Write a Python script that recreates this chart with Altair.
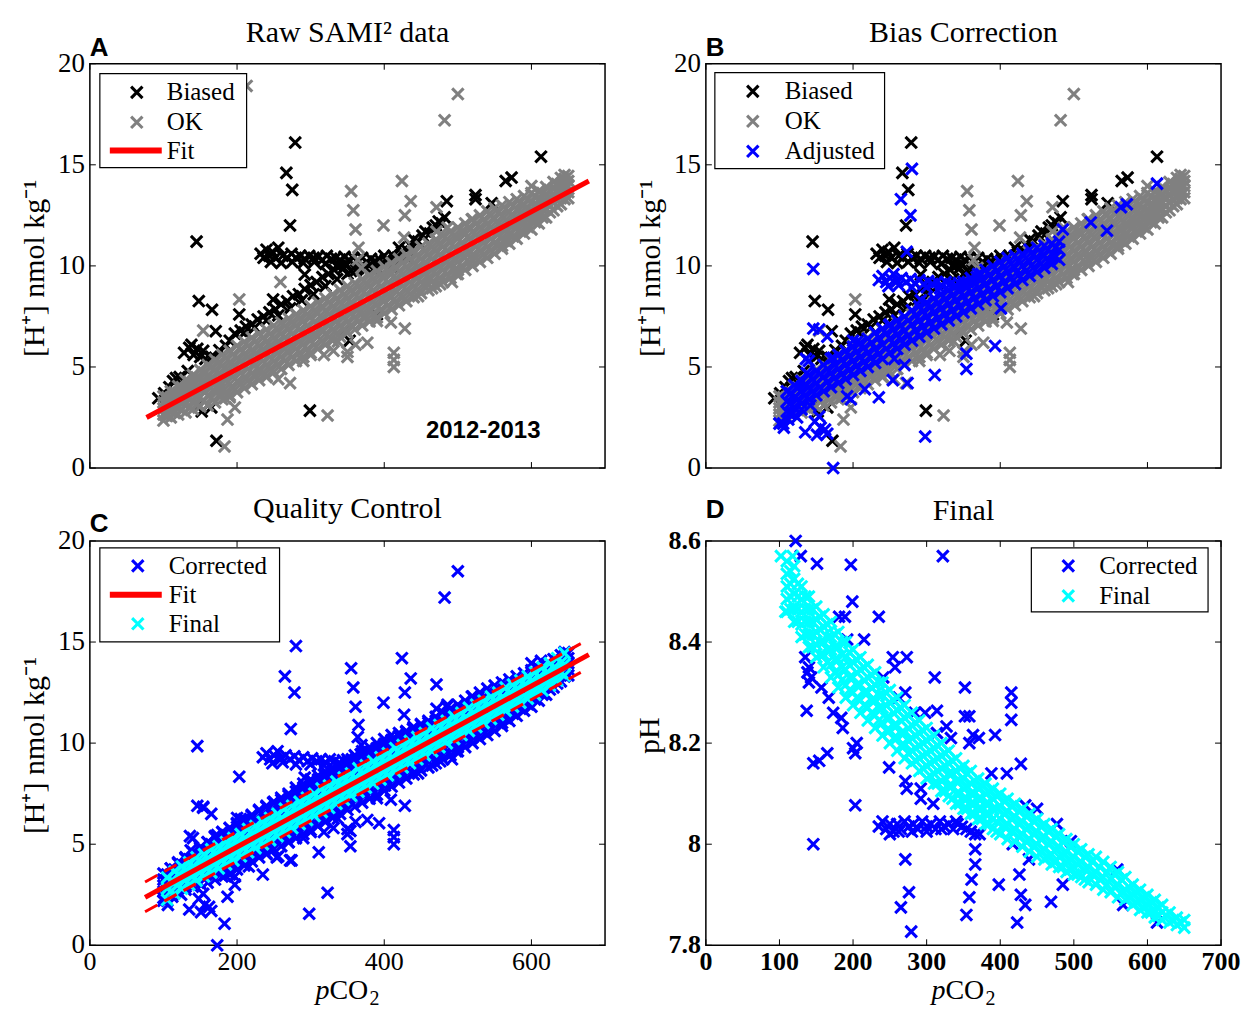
import altair as alt
import pandas as pd

SERIF = "Liberation Serif"
SANS = "Liberation Sans"
XPATH = "M-1,-1L1,1M-1,1L1,-1"
W, H = 516, 405
MS, SW = 130, 3.1
BLACK, GREY, BLUE, CYAN, RED = "#000000", "#808080", "#0000ff", "#00ffff", "#ff0000"

# ---------------- ticks and tick labels ----------------
x_ticks = [0, 200, 400, 600]
x_tick_labels = ["0", "200", "400", "600"]
x_ticks_d = [0, 100, 200, 300, 400, 500, 600, 700]
x_tick_labels_d = ["0", "100", "200", "300", "400", "500", "600", "700"]
h_ticks = [0, 5, 10, 15, 20]
h_tick_labels = ["0", "5", "10", "15", "20"]
ph_ticks = [7.8, 8.0, 8.2, 8.4, 8.6]
ph_tick_labels = ["7.8", "8", "8.2", "8.4", "8.6"]

# ---------------- fits (pCO2, [H+]) ----------------
fit_a_x = [77, 678]
fit_a_y = [2.5, 14.2]
fit_c_x = [75, 678]
fit_c_y = [2.37, 14.38]
fit_c_up_x = [75, 667]
fit_c_up_y = [3.13, 14.92]
fit_c_lo_x = [75, 667]
fit_c_lo_y = [1.66, 13.5]

# ---------------- Biased (black) ----------------
biased_pts = [
    (145, 11.2), (148, 8.26), (166, 7.83), (171, 6.77), (203, 7.6), (249, 8.34), (267, 14.6),
    (275, 13.76), (272, 12.0), (279, 16.1), (292, 9.57), (299, 2.84), (485, 13.2), (524, 13.5),
    (524, 13.3), (546, 13.1), (565, 14.2), (573, 14.37), (613, 15.4), (172, 1.35), (165, 3.0),
    (152, 2.8), (148, 3.1), (353, 6.3), (347, 6.8), (390, 7.6),
    (93, 3.45), (101, 3.7), (108, 4.0), (113, 4.3), (117, 4.45), (122, 4.5), (128, 5.7), (133, 4.8),
    (135, 5.95), (138, 6.1), (141, 5.6), (146, 5.9), (150, 5.5), (154, 5.8), (157, 5.4), (160, 5.2),
    (165, 5.5), (170, 5.45), (176, 5.83), (185, 6.05), (190, 6.3),
    (197, 6.65), (205, 6.8), (212, 7.0), (220, 7.1), (228, 7.35), (236, 7.5), (244, 7.7), (252, 7.85),
    (260, 8.1), (268, 8.25), (276, 8.5), (284, 8.6), (292, 8.85), (300, 9.05), (308, 9.2), (316, 9.45),
    (324, 9.6), (332, 9.8), (340, 10.0), (348, 10.1),
    (210, 6.7), (224, 6.95), (240, 7.3), (256, 7.55), (272, 7.9), (288, 8.3), (304, 8.6), (320, 9.0),
    (336, 9.35), (350, 9.6), (362, 9.8),
    (232, 10.6), (236, 10.4), (240, 10.8), (244, 10.5), (248, 10.7), (252, 10.4), (256, 10.9),
    (262, 10.5), (268, 10.4), (274, 10.6), (280, 10.4), (286, 10.5), (292, 10.35), (298, 10.5),
    (304, 10.4), (310, 10.45), (316, 10.3), (322, 10.5), (328, 10.35), (334, 10.4), (340, 10.3),
    (346, 10.45), (352, 10.3), (358, 10.4), (364, 10.25), (370, 10.4), (376, 10.2), (382, 10.35),
    (388, 10.2), (394, 10.3),
    (246, 10.2), (260, 10.15), (275, 10.2), (290, 10.15), (305, 10.2), (320, 10.1), (335, 10.0),
    (355, 9.75), (365, 9.9), (375, 9.9), (385, 9.8), (380, 10.05), (345, 9.9),
    (390, 9.9), (396, 10.1), (400, 10.5), (402, 10.3), (408, 10.2), (412, 10.5), (418, 10.4),
    (420, 10.9), (424, 10.7), (430, 10.8), (430, 10.4), (436, 11.0), (440, 11.3), (446, 11.2),
    (452, 11.5), (456, 11.7), (462, 11.6), (466, 11.9), (470, 12.0), (474, 12.2), (478, 12.1),
    (482, 12.4), (410, 9.95),
]

# ---------------- OK (grey): dense band read column by column ----------------
ok_cols = [
    (100, 2.35, 2.65, 2.95, 3.25, 3.55), (110, 2.5, 2.8, 3.15, 3.5, 3.8),
    (120, 2.65, 3.0, 3.35, 3.7, 4.05), (130, 2.75, 3.15, 3.55, 3.95, 4.35),
    (140, 2.9, 3.3, 3.75, 4.15, 4.6), (150, 3.05, 3.5, 3.95, 4.4, 4.85),
    (160, 3.1, 3.6, 4.1, 4.6, 5.1), (170, 3.25, 3.8, 4.3, 4.85, 5.35),
    (180, 3.4, 3.95, 4.5, 5.05, 5.6), (190, 3.6, 4.15, 4.7, 5.25, 5.8),
    (200, 3.75, 4.3, 4.9, 5.45, 6.05), (210, 3.95, 4.5, 5.1, 5.65, 6.25),
    (220, 4.15, 4.7, 5.3, 5.85, 6.45), (230, 4.35, 4.9, 5.5, 6.05, 6.65),
    (240, 4.55, 5.1, 5.7, 6.25, 6.85), (250, 4.75, 5.3, 5.9, 6.45, 7.05),
    (260, 4.9, 5.5, 6.05, 6.65, 7.2), (270, 5.1, 5.7, 6.25, 6.85, 7.4),
    (280, 5.3, 5.9, 6.45, 7.05, 7.6), (290, 5.5, 6.1, 6.65, 7.25, 7.8),
    (300, 5.7, 6.3, 6.85, 7.45, 8.0), (310, 5.9, 6.5, 7.05, 7.65, 8.2),
    (320, 6.1, 6.65, 7.25, 7.8, 8.4), (330, 6.3, 6.85, 7.45, 8.0, 8.6),
    (340, 6.5, 7.05, 7.65, 8.2, 8.8), (350, 6.7, 7.25, 7.85, 8.4, 9.0),
    (360, 6.85, 7.45, 8.0, 8.6, 9.15), (370, 7.05, 7.65, 8.2, 8.8, 9.35),
    (380, 7.25, 7.85, 8.4, 9.0, 9.55), (390, 7.45, 8.05, 8.6, 9.2, 9.75),
    (400, 7.65, 8.25, 8.8, 9.4, 9.95), (410, 7.85, 8.45, 9.0, 9.6, 10.15),
    (420, 8.05, 8.6, 9.2, 9.75, 10.35), (430, 8.25, 8.8, 9.4, 9.95, 10.55),
    (440, 8.45, 9.0, 9.6, 10.15, 10.75), (450, 8.65, 9.2, 9.8, 10.35, 10.95),
    (460, 8.8, 9.4, 9.95, 10.55, 11.1), (470, 9.0, 9.6, 10.15, 10.75, 11.3),
    (480, 9.2, 9.8, 10.35, 10.95, 11.5), (490, 9.4, 10.0, 10.55, 11.15, 11.7),
    (500, 9.6, 10.2, 10.75, 11.35, 11.9), (510, 9.8, 10.4, 10.95, 11.55, 12.1),
    (520, 10.0, 10.55, 11.15, 11.7, 12.3), (530, 10.2, 10.75, 11.35, 11.9, 12.5),
    (540, 10.4, 10.95, 11.55, 12.1, 12.7), (550, 10.6, 11.15, 11.75, 12.3, 12.85),
    (560, 10.85, 11.4, 11.9, 12.45, 13.0), (570, 11.1, 11.6, 12.1, 12.65, 13.15),
    (580, 11.35, 11.85, 12.3, 12.8, 13.3), (590, 11.6, 12.05, 12.5, 13.0, 13.45),
    (600, 11.8, 12.25, 12.7, 13.15, 13.6), (610, 12.1, 12.5, 12.9, 13.3, 13.7),
    (620, 12.4, 12.8, 13.15, 13.55, 13.9), (630, 12.75, 13.1, 13.45, 13.8, 14.15),
    (640, 13.05, 13.35, 13.7, 14.0, 14.35), (650, 13.35, 13.65, 13.95, 14.2, 14.45),
    (105, 2.58, 2.9, 3.2, 3.5), (115, 2.73, 3.07, 3.41, 3.75), (125, 2.88, 3.25, 3.63, 4.0),
    (135, 3.0, 3.43, 3.84, 4.25), (145, 3.17, 3.61, 4.05, 4.49), (155, 3.31, 3.78, 4.26, 4.73),
    (165, 3.46, 3.97, 4.48, 4.99), (175, 3.61, 4.14, 4.68, 5.21), (185, 3.78, 4.33, 4.88, 5.43),
    (195, 3.96, 4.52, 5.08, 5.64), (205, 4.14, 4.71, 5.29, 5.86), (215, 4.33, 4.9, 5.48, 6.05),
    (225, 4.53, 5.1, 5.68, 6.25), (235, 4.72, 5.29, 5.87, 6.44), (245, 4.92, 5.49, 6.07, 6.64),
    (255, 5.11, 5.68, 6.26, 6.83), (265, 5.31, 5.88, 6.46, 7.03), (275, 5.5, 6.07, 6.65, 7.22),
    (285, 5.7, 6.27, 6.85, 7.42), (295, 5.89, 6.46, 7.04, 7.61), (305, 6.09, 6.66, 7.24, 7.81),
    (315, 6.28, 6.85, 7.43, 8.0), (325, 6.48, 7.05, 7.63, 8.2), (335, 6.67, 7.24, 7.82, 8.39),
    (345, 6.87, 7.44, 8.02, 8.59), (355, 7.06, 7.63, 8.21, 8.78), (365, 7.26, 7.83, 8.41, 8.98),
    (375, 7.45, 8.02, 8.6, 9.17), (385, 7.65, 8.22, 8.8, 9.37), (395, 7.84, 8.41, 8.99, 9.56),
    (405, 8.04, 8.61, 9.19, 9.76), (415, 8.23, 8.8, 9.38, 9.95), (425, 8.43, 9.0, 9.58, 10.15),
    (435, 8.62, 9.19, 9.77, 10.34), (445, 8.82, 9.39, 9.97, 10.54), (455, 9.01, 9.58, 10.16, 10.73),
    (465, 9.21, 9.78, 10.36, 10.93), (475, 9.4, 9.97, 10.55, 11.12), (485, 9.6, 10.17, 10.75, 11.32),
    (495, 9.79, 10.36, 10.94, 11.51), (505, 9.99, 10.56, 11.14, 11.71), (515, 10.18, 10.75, 11.33, 11.9),
    (525, 10.38, 10.95, 11.53, 12.1), (535, 10.57, 11.14, 11.72, 12.29), (545, 10.77, 11.34, 11.92, 12.49),
    (555, 11.0, 11.55, 12.1, 12.65), (565, 11.23, 11.76, 12.28, 12.81), (575, 11.46, 11.96, 12.46, 12.96),
    (585, 11.7, 12.17, 12.65, 13.12), (595, 11.93, 12.38, 12.83, 13.28), (605, 12.16, 12.59, 13.01, 13.44),
    (615, 12.4, 12.8, 13.2, 13.6), (625, 12.65, 13.0, 13.4, 13.75), (635, 12.95, 13.3, 13.7, 14.05),
    (645, 13.3, 13.6, 13.95, 14.3),
]
ok_pts = [
    (213, 18.9), (500, 18.5), (482, 17.2), (355, 13.7), (358, 12.75), (361, 11.8), (424, 14.2),
    (436, 13.2), (428, 12.5), (399, 12.0), (471, 12.9), (259, 9.2), (203, 8.34), (154, 6.8),
    (413, 5.7), (413, 5.35), (413, 5.0), (428, 6.9), (409, 7.2), (377, 6.2), (350, 5.5), (323, 2.6),
    (183, 1.07), (187, 2.4), (197, 3.0), (184, 3.45), (256, 4.4), (103, 2.6), (369, 9.9), (471, 11.7),
    (508, 11.7), (364, 10.3), (365, 10.9), (272, 4.2), (290, 5.3), (240, 4.5), (190, 3.5), (175, 3.9),
    (230, 4.8), (300, 5.6), (318, 5.6), (331, 5.8), (337, 6.26), (350, 5.75), (361, 6.1), (390, 7.28),
    (446, 8.5), (465, 8.9), (500, 9.8), (520, 10.3), (560, 11.0), (562, 11.25), (427, 11.4),
    (439, 10.7), (486, 11.9), (476, 9.1), (498, 9.6), (519, 12.3), (492, 9.2), (462, 9.4),
    (372, 7.45), (600, 13.95), (645, 14.5),
]

# ---------------- Adjusted (blue) ----------------
adj_cols = [
    (110, 2.8, 3.3, 3.8), (120, 3.0, 3.5, 4.1), (130, 3.2, 3.8, 4.3), (140, 3.4, 4.0, 4.6),
    (150, 3.6, 4.2, 4.8), (160, 3.8, 4.5, 5.1), (170, 4.0, 4.7, 5.4), (180, 4.2, 4.9, 5.6),
    (190, 4.4, 5.1, 5.8), (200, 4.6, 5.3, 6.0), (210, 4.8, 5.5, 6.2), (220, 5.0, 5.7, 6.4),
    (230, 5.2, 5.9, 6.7), (240, 5.4, 6.1, 6.9), (250, 5.7, 6.4, 7.1), (260, 5.9, 6.6, 7.3),
    (270, 6.1, 6.8, 7.5), (280, 6.3, 7.1, 7.8), (290, 6.5, 7.3, 8.0), (300, 6.7, 7.5, 8.2),
    (310, 6.9, 7.7, 8.4), (320, 7.1, 7.9, 8.6), (330, 7.3, 8.1, 8.8), (340, 7.5, 8.3, 9.0),
    (350, 7.7, 8.5, 9.2), (360, 7.9, 8.7, 9.4), (370, 8.1, 8.9, 9.6), (380, 8.3, 9.1, 9.8),
    (390, 8.5, 9.3, 10.0), (400, 8.7, 9.5, 10.2), (410, 8.9, 9.7, 10.4), (420, 9.1, 9.9, 10.5),
    (430, 9.3, 10.0, 10.6), (440, 9.5, 10.2, 10.8), (450, 9.7, 10.3, 10.9), (460, 9.9, 10.5, 11.0),
    (470, 10.1, 10.6, 11.1), (480, 10.3, 10.8, 11.2),
    (115, 3.2, 3.7), (125, 3.4, 3.95), (135, 3.6, 4.15), (145, 3.8, 4.4), (155, 4.0, 4.65),
    (165, 4.25, 4.9), (175, 4.45, 5.1), (185, 4.65, 5.35), (195, 4.85, 5.55), (205, 5.05, 5.75),
    (215, 5.25, 5.95), (225, 5.45, 6.2), (235, 5.65, 6.45), (245, 5.9, 6.65), (255, 6.15, 6.85),
    (265, 6.35, 7.05), (275, 6.55, 7.3), (285, 6.8, 7.55), (295, 7.0, 7.75), (305, 7.2, 7.95),
    (315, 7.4, 8.15), (325, 7.6, 8.35), (335, 7.8, 8.55), (345, 8.0, 8.75), (355, 8.2, 8.95),
    (365, 8.4, 9.15), (375, 8.6, 9.35), (385, 8.8, 9.55), (395, 9.0, 9.75), (405, 9.2, 9.95),
    (415, 9.4, 10.1), (425, 9.55, 10.25), (435, 9.75, 10.4), (445, 9.9, 10.55), (455, 10.1, 10.65),
    (465, 10.25, 10.8), (475, 10.45, 10.9),
]
adj_pts = [
    (146, 9.85), (146, 6.9), (165, 6.5), (173, 5.45), (173, 0.0), (165, 1.7), (151, 1.64), (135, 1.77),
    (154, 2.55), (105, 2.2), (113, 2.7), (137, 4.7), (205, 6.24), (216, 3.9), (235, 3.5), (254, 4.35),
    (274, 4.2), (311, 4.6), (298, 1.56), (265, 13.3), (280, 14.8), (278, 12.5), (273, 10.7),
    (354, 5.66), (354, 4.9), (393, 6.04), (401, 7.9), (485, 11.8), (523, 12.15), (545, 11.74),
    (564, 12.9), (572, 13.05), (613, 14.07), (292, 8.3), (249, 7.06), (200, 6.3), (100, 2.2),
    (106, 2.0), (112, 2.4), (118, 2.7), (124, 2.5), (130, 2.9), (142, 3.1), (148, 2.3), (156, 2.0),
    (162, 1.9), (140, 5.3), (136, 5.4), (154, 6.85), (256, 5.4), (270, 5.1), (197, 3.4), (192, 3.55),
    (235, 9.3), (240, 9.5), (245, 9.2), (250, 9.4), (255, 9.6), (260, 9.25), (266, 9.4), (272, 9.2),
    (278, 9.35), (284, 9.15), (290, 9.3), (296, 9.1), (302, 9.25), (308, 9.1), (314, 9.2), (320, 9.05),
    (326, 9.2), (332, 9.1), (338, 9.0), (344, 9.15), (350, 9.05), (356, 9.2), (362, 9.3), (368, 9.45),
    (374, 9.6), (248, 9.0), (262, 9.05), (280, 8.95), (300, 8.95), (318, 8.9),
]

# ---------------- Final (cyan) in panel C ----------------
final_c_cols = [
    (105, 2.25, 2.8, 3.35), (115, 2.55, 3.1, 3.65), (125, 2.8, 3.35, 3.9), (135, 3.0, 3.55, 4.1),
    (145, 3.2, 3.75, 4.35), (155, 3.4, 3.95, 4.5), (165, 3.6, 4.15, 4.75), (175, 3.8, 4.35, 4.9),
    (185, 4.0, 4.55, 5.1), (195, 4.2, 4.8, 5.3), (205, 4.4, 4.95, 5.5), (215, 4.6, 5.15, 5.75),
    (225, 4.8, 5.35, 5.9), (235, 5.0, 5.55, 6.1), (245, 5.2, 5.8, 6.3), (255, 5.4, 5.95, 6.5),
    (265, 5.6, 6.15, 6.75), (275, 5.8, 6.35, 6.9), (285, 6.0, 6.55, 7.1), (295, 6.2, 6.8, 7.3),
    (305, 6.4, 6.95, 7.5), (315, 6.6, 7.15, 7.75), (325, 6.8, 7.35, 7.9), (335, 7.0, 7.55, 8.1),
    (345, 7.2, 7.8, 8.3), (355, 7.4, 7.95, 8.5), (365, 7.6, 8.15, 8.75), (375, 7.8, 8.35, 8.9),
    (385, 8.0, 8.55, 9.1), (395, 8.2, 8.8, 9.3), (405, 8.4, 8.95, 9.5), (415, 8.6, 9.15, 9.75),
    (425, 8.8, 9.35, 9.9), (435, 9.0, 9.55, 10.1), (445, 9.2, 9.8, 10.3), (455, 9.4, 9.95, 10.5),
    (465, 9.6, 10.15, 10.75), (475, 9.8, 10.35, 10.9), (485, 10.0, 10.55, 11.1),
    (495, 10.2, 10.8, 11.3), (505, 10.4, 10.95, 11.5), (515, 10.6, 11.15, 11.75),
    (525, 10.8, 11.35, 11.9), (535, 11.0, 11.55, 12.1), (545, 11.2, 11.8, 12.3),
    (555, 11.4, 11.95, 12.5), (565, 11.6, 12.15, 12.75), (575, 11.8, 12.35, 12.9),
    (585, 12.0, 12.55, 13.1), (595, 12.2, 12.8, 13.3), (605, 12.4, 12.95, 13.5),
    (615, 12.6, 13.15, 13.75), (625, 12.85, 13.4, 13.95), (635, 13.1, 13.65, 14.2),
    (645, 13.35, 13.9, 14.45),
    (110, 2.67, 3.17), (120, 3.0, 3.5), (130, 3.22, 3.72), (140, 3.42, 3.92), (150, 3.62, 4.12),
    (160, 3.81, 4.31), (170, 4.01, 4.51), (180, 4.21, 4.71), (190, 4.41, 4.91), (200, 4.61, 5.11),
    (210, 4.81, 5.31), (220, 5.01, 5.51), (230, 5.21, 5.71), (240, 5.41, 5.91), (250, 5.61, 6.11),
    (260, 5.8, 6.3), (270, 6.0, 6.5), (280, 6.2, 6.7), (290, 6.4, 6.9), (300, 6.6, 7.1),
    (310, 6.8, 7.3), (320, 7.0, 7.5), (330, 7.2, 7.7), (340, 7.4, 7.9), (350, 7.6, 8.1),
    (360, 7.79, 8.29), (370, 7.99, 8.49), (380, 8.19, 8.69), (390, 8.39, 8.89), (400, 8.59, 9.09),
    (410, 8.79, 9.29), (420, 8.99, 9.49), (430, 9.19, 9.69), (440, 9.39, 9.89), (450, 9.59, 10.09),
    (460, 9.78, 10.28), (470, 9.98, 10.48), (480, 10.18, 10.68), (490, 10.38, 10.88),
    (500, 10.58, 11.08), (510, 10.78, 11.28), (520, 10.98, 11.48), (530, 11.18, 11.68),
    (540, 11.38, 11.88), (550, 11.58, 12.08), (560, 11.77, 12.27), (570, 11.97, 12.47),
    (580, 12.17, 12.67), (590, 12.37, 12.87), (600, 12.57, 13.07), (610, 12.77, 13.27),
    (620, 12.97, 13.47), (630, 13.22, 13.72), (640, 13.47, 13.97),
]

# ---------------- Panel D: pH ----------------
d_corr_pts = [
    (122, 8.60), (129, 8.57), (151, 8.555), (197, 8.553), (322, 8.57), (199, 8.48), (189, 8.45),
    (181, 8.45), (235, 8.45), (215, 8.405), (192, 8.405), (135, 8.37), (140, 8.35), (140, 8.32),
    (137, 8.264), (157, 8.31), (167, 8.29), (173, 8.26), (184, 8.25), (186, 8.23), (146, 8.16),
    (154, 8.165), (165, 8.18), (146, 8.0), (203, 8.077), (200, 8.19), (205, 8.2), (203, 8.18),
    (254, 8.37), (257, 8.35), (273, 8.37), (241, 8.33), (262, 8.29), (271, 8.30), (311, 8.33),
    (284, 8.26), (298, 8.26), (314, 8.264), (327, 8.233), (333, 8.21), (314, 8.22), (352, 8.31),
    (352, 8.253), (358, 8.253), (358, 8.20), (363, 8.216), (371, 8.21), (393, 8.216), (415, 8.30),
    (415, 8.28), (415, 8.246), (388, 8.14), (409, 8.14), (428, 8.159), (249, 8.152), (271, 8.125),
    (273, 8.11), (292, 8.11), (292, 8.09), (309, 8.08), (271, 7.97), (276, 7.905), (265, 7.875),
    (279, 7.827), (366, 7.99), (366, 7.96), (361, 7.93), (358, 7.895), (354, 7.86), (398, 7.92),
    (426, 7.94), (428, 7.90), (434, 7.88), (423, 7.845), (417, 8.0), (439, 7.97), (469, 7.886),
    (485, 7.92), (477, 8.04), (496, 8.006), (559, 7.95), (567, 7.88), (613, 7.845), (450, 8.07),
    (434, 8.077), (143, 8.33), (138, 8.34),
    (235, 8.035), (240, 8.045), (245, 8.03), (250, 8.04), (255, 8.025), (260, 8.04), (265, 8.03),
    (270, 8.045), (276, 8.035), (282, 8.04), (288, 8.03), (294, 8.045), (300, 8.035), (306, 8.04),
    (312, 8.03), (318, 8.045), (324, 8.035), (330, 8.04), (336, 8.03), (342, 8.04), (348, 8.035),
    (354, 8.03), (360, 8.025), (366, 8.02), (372, 8.02), (250, 8.02), (262, 8.025), (280, 8.025),
    (300, 8.025), (320, 8.03), (340, 8.045),
]
d_final_cols = [
    (102, 8.57), (118, 8.57), (108, 8.46),
    (110, 8.56, 8.535, 8.51, 8.485, 8.46), (120, 8.55, 8.525, 8.495, 8.465, 8.44),
    (130, 8.51, 8.485, 8.46, 8.435, 8.41), (140, 8.49, 8.465, 8.44, 8.415, 8.39),
    (150, 8.47, 8.445, 8.42, 8.395, 8.37), (160, 8.455, 8.43, 8.40, 8.375, 8.35),
    (170, 8.44, 8.41, 8.385, 8.355, 8.33), (180, 8.42, 8.39, 8.365, 8.335, 8.31),
    (190, 8.40, 8.37, 8.345, 8.315, 8.29), (200, 8.385, 8.36, 8.33, 8.30, 8.275),
    (210, 8.37, 8.345, 8.315, 8.285, 8.26), (220, 8.355, 8.33, 8.30, 8.27, 8.245),
    (230, 8.34, 8.315, 8.285, 8.255, 8.23), (240, 8.32, 8.295, 8.27, 8.24, 8.215),
    (250, 8.305, 8.28, 8.25, 8.225, 8.20), (260, 8.29, 8.265, 8.235, 8.21, 8.185),
    (270, 8.275, 8.25, 8.22, 8.195, 8.17), (280, 8.26, 8.235, 8.21, 8.185, 8.16),
    (290, 8.245, 8.22, 8.195, 8.17, 8.145), (300, 8.23, 8.205, 8.18, 8.155, 8.13),
    (310, 8.215, 8.19, 8.165, 8.14, 8.12), (320, 8.20, 8.175, 8.15, 8.125, 8.105),
    (330, 8.185, 8.16, 8.14, 8.115, 8.095), (340, 8.17, 8.145, 8.125, 8.10, 8.08),
    (350, 8.155, 8.13, 8.11, 8.09, 8.07), (360, 8.145, 8.12, 8.10, 8.08, 8.06),
    (370, 8.13, 8.11, 8.09, 8.07, 8.05), (380, 8.12, 8.10, 8.08, 8.06, 8.04),
    (390, 8.11, 8.09, 8.07, 8.05, 8.03), (400, 8.10, 8.075, 8.05, 8.02),
    (410, 8.09, 8.065, 8.04, 8.01), (420, 8.08, 8.055, 8.03, 8.005), (430, 8.07, 8.045, 8.02, 7.995),
    (440, 8.06, 8.035, 8.01, 7.985), (450, 8.05, 8.025, 8.0, 7.975), (460, 8.04, 8.015, 7.99, 7.97),
    (470, 8.03, 8.005, 7.98, 7.96), (480, 8.02, 7.995, 7.975, 7.955), (490, 8.01, 7.985, 7.965, 7.945),
    (500, 8.00, 7.975, 7.955, 7.94), (510, 7.99, 7.965, 7.935), (520, 7.98, 7.955, 7.925),
    (530, 7.975, 7.945, 7.92), (540, 7.965, 7.935, 7.91), (550, 7.955, 7.93, 7.905),
    (560, 7.945, 7.92, 7.895), (570, 7.935, 7.91, 7.89), (580, 7.92, 7.90, 7.88),
    (590, 7.91, 7.89, 7.87), (600, 7.90, 7.88, 7.865), (610, 7.89, 7.87, 7.855),
    (620, 7.88, 7.865, 7.85), (630, 7.865, 7.845), (640, 7.855, 7.84), (650, 7.85, 7.835),
    (115, 8.54, 8.515, 8.49, 8.465), (125, 8.515, 8.49, 8.465, 8.44), (135, 8.49, 8.465, 8.44, 8.415),
    (145, 8.465, 8.44, 8.415, 8.39), (155, 8.45, 8.425, 8.40, 8.375), (165, 8.435, 8.41, 8.385, 8.36),
    (175, 8.415, 8.39, 8.365, 8.34), (185, 8.40, 8.375, 8.35, 8.325), (195, 8.38, 8.355, 8.33, 8.305),
    (205, 8.365, 8.34, 8.315, 8.29), (215, 8.35, 8.325, 8.30, 8.275), (225, 8.335, 8.31, 8.285, 8.26),
    (235, 8.32, 8.295, 8.27, 8.245), (245, 8.30, 8.275, 8.25, 8.225), (255, 8.285, 8.26, 8.235, 8.21),
    (265, 8.27, 8.245, 8.22, 8.195), (275, 8.255, 8.23, 8.205, 8.18), (285, 8.24, 8.215, 8.19, 8.165),
    (295, 8.225, 8.20, 8.175, 8.15), (305, 8.21, 8.185, 8.16, 8.135), (315, 8.195, 8.17, 8.145, 8.12),
    (325, 8.18, 8.155, 8.13, 8.105), (335, 8.165, 8.14, 8.115, 8.09), (345, 8.15, 8.125, 8.10, 8.08),
    (355, 8.14, 8.115, 8.09, 8.07), (365, 8.125, 8.10, 8.08, 8.06), (375, 8.115, 8.09, 8.07, 8.05),
    (385, 8.105, 8.08, 8.06, 8.04), (395, 8.095, 8.07, 8.045, 8.025), (405, 8.085, 8.06, 8.035),
    (415, 8.075, 8.05, 8.025), (425, 8.065, 8.04, 8.015), (435, 8.055, 8.03, 8.005),
    (445, 8.045, 8.02, 7.995), (455, 8.035, 8.01, 7.985), (465, 8.025, 8.0, 7.975),
    (475, 8.015, 7.99, 7.965), (485, 8.005, 7.98, 7.955), (495, 7.995, 7.97, 7.95),
    (505, 7.985, 7.96, 7.94), (515, 7.975, 7.95, 7.93), (525, 7.965, 7.94), (535, 7.955, 7.93),
    (545, 7.945, 7.92), (555, 7.94, 7.915), (565, 7.93, 7.905), (575, 7.915, 7.895),
    (585, 7.905, 7.885), (595, 7.895, 7.875), (605, 7.885, 7.865), (615, 7.875, 7.858),
    (625, 7.86), (635, 7.85), (645, 7.845),
]


def cloud(cols):
    return [(c[0], y) for c in cols for y in c[1:]]


ONE = pd.DataFrame({"k": [0]})
XS = alt.Scale(domain=[0, 700], nice=False, zero=False)
YS_H = alt.Scale(domain=[0, 20], nice=False, zero=False)
YS_P = alt.Scale(domain=[7.8, 8.6], nice=False, zero=False)


def scat(pairs, color, ys):
    df = pd.DataFrame(pairs, columns=["x", "y"])
    return alt.Chart(df).mark_point(shape=XPATH, filled=False, size=MS, strokeWidth=SW,
                                    color=color, opacity=1).encode(
        x=alt.X("x:Q", scale=XS, axis=None), y=alt.Y("y:Q", scale=ys, axis=None))


def line(xv, yv, color, width, ys, dash=None):
    df = pd.DataFrame({"x": xv, "y": yv})
    kw = dict(color=color, strokeWidth=width, strokeCap="butt")
    if dash:
        kw["strokeDash"] = dash
    return alt.Chart(df).mark_line(**kw).encode(
        x=alt.X("x:Q", scale=XS, axis=None), y=alt.Y("y:Q", scale=ys, axis=None))


def ticks(xvals, yvals, ys):
    dx = pd.DataFrame({"v": xvals})
    dy = pd.DataFrame({"v": yvals})
    r = dict(color="black", strokeWidth=1)
    return [
        alt.Chart(dy).mark_rule(**r).encode(y=alt.Y("v:Q", scale=ys, axis=None), x=alt.value(0), x2=alt.value(6)),
        alt.Chart(dy).mark_rule(**r).encode(y=alt.Y("v:Q", scale=ys, axis=None), x=alt.value(W - 6), x2=alt.value(W)),
        alt.Chart(dx).mark_rule(**r).encode(x=alt.X("v:Q", scale=XS, axis=None), y=alt.value(H - 6), y2=alt.value(H)),
        alt.Chart(dx).mark_rule(**r).encode(x=alt.X("v:Q", scale=XS, axis=None), y=alt.value(0), y2=alt.value(6)),
    ]


def ylabels(vals, labels, ys, bold=False):
    df = pd.DataFrame({"v": vals, "t": labels})
    return alt.Chart(df).mark_text(font=SERIF, fontSize=26 if bold else 27, align="right",
                                   baseline="middle", fontWeight="bold" if bold else "normal",
                                   color="black").encode(
        y=alt.Y("v:Q", scale=ys, axis=None), x=alt.value(-5), text="t:N")


def xlabels(vals, labels, bold=False):
    df = pd.DataFrame({"v": vals, "t": labels})
    return alt.Chart(df).mark_text(font=SERIF, fontSize=26, align="center", baseline="top",
                                   fontWeight="bold" if bold else "normal", color="black").encode(
        x=alt.X("v:Q", scale=XS, axis=None), y=alt.value(H + 4), text="t:N")


def txt(s, x, y, size, font=SERIF, weight="normal", style="normal", align="left",
        baseline="alphabetic", angle=0):
    kw = dict(text=s, font=font, fontSize=size, fontWeight=weight, fontStyle=style,
              align=align, baseline=baseline, color="black")
    if angle:
        kw["angle"] = angle
    return alt.Chart(ONE).mark_text(**kw).encode(x=alt.value(x), y=alt.value(y))


def legend(box, mx, tx, rows):
    x0, y0, x1, y1 = box
    L = [alt.Chart(ONE).mark_rect(fill="white", stroke="black", strokeWidth=1.2).encode(
        x=alt.value(x0), x2=alt.value(x1), y=alt.value(y0), y2=alt.value(y1))]
    for label, color, kind, yy in rows:
        if kind == "line":
            L.append(alt.Chart(ONE).mark_rule(color=color, strokeWidth=6).encode(
                x=alt.value(x0 + 10), x2=alt.value(x0 + 62), y=alt.value(yy)))
        else:
            L.append(alt.Chart(ONE).mark_point(shape=XPATH, filled=False, size=MS, strokeWidth=SW,
                                               color=color, opacity=1).encode(
                x=alt.value(mx), y=alt.value(yy)))
        L.append(txt(label, tx, yy, 25, baseline="middle"))
    return L


def ylabel_h(x=-55):
    return txt("[H\u207a] nmol kg\u207b\u00b9", x, 205, 30, align="center", baseline="middle", angle=270)


def xlabel():
    return [txt("p", 226, 459, 28, style="italic"), txt("CO", 240, 459, 28),
            txt("2", 280, 465, 20)]


biased = biased_pts
ok = cloud(ok_cols) + ok_pts
adjusted = cloud(adj_cols) + adj_pts
corrected = ok + adjusted
final_c = cloud(final_c_cols)
d_final = cloud(d_final_cols)

panel_a = alt.layer(
    scat(biased, BLACK, YS_H),
    scat(ok, GREY, YS_H),
    line(fit_a_x, fit_a_y, RED, 5, YS_H),
    *ticks(x_ticks, h_ticks, YS_H),
    ylabels(h_ticks, h_tick_labels, YS_H),
    txt("Raw SAMI\u00b2 data", W / 2, -22, 30, align="center"),
    txt("A", 0, -8, 26, font=SANS, weight="bold"),
    txt("2012-2013", 394, 375, 24, font=SANS, weight="bold", align="center"),
    ylabel_h(),
    *legend((10, 10, 157, 104), 47, 77,
            [("Biased", BLACK, "pt", 28.7), ("OK", GREY, "pt", 58.7), ("Fit", RED, "line", 87)]),
).properties(width=W, height=H)

panel_b = alt.layer(
    scat(biased, BLACK, YS_H),
    scat(ok, GREY, YS_H),
    scat(adjusted, BLUE, YS_H),
    *ticks(x_ticks, h_ticks, YS_H),
    ylabels(h_ticks, h_tick_labels, YS_H),
    txt("Bias Correction", W / 2, -22, 30, align="center"),
    txt("B", 0, -8, 26, font=SANS, weight="bold"),
    ylabel_h(),
    *legend((9, 9, 179, 105), 47, 79,
            [("Biased", BLACK, "pt", 27.7), ("OK", GREY, "pt", 57.7), ("Adjusted", BLUE, "pt", 87.7)]),
).properties(width=W, height=H)

panel_c = alt.layer(
    scat(corrected, BLUE, YS_H),
    scat(final_c, CYAN, YS_H),
    line(fit_c_x, fit_c_y, RED, 5, YS_H),
    line(fit_c_up_x, fit_c_up_y, RED, 3, YS_H, dash=[14, 8]),
    line(fit_c_lo_x, fit_c_lo_y, RED, 3, YS_H, dash=[14, 8]),
    *ticks(x_ticks, h_ticks, YS_H),
    ylabels(h_ticks, h_tick_labels, YS_H),
    xlabels(x_ticks, x_tick_labels),
    txt("Quality Control", W / 2, -23, 30, align="center"),
    txt("C", 0, -9, 26, font=SANS, weight="bold"),
    ylabel_h(),
    *xlabel(),
    *legend((10, 7, 190, 101), 48, 79,
            [("Corrected", BLUE, "pt", 25), ("Fit", RED, "line", 54), ("Final", CYAN, "pt", 83)]),
).properties(width=W, height=H)

panel_d = alt.layer(
    scat(d_corr_pts, BLUE, YS_P),
    scat(d_final, CYAN, YS_P),
    *ticks(x_ticks_d, ph_ticks, YS_P),
    ylabels(ph_ticks, ph_tick_labels, YS_P, bold=True),
    xlabels(x_ticks_d, x_tick_labels_d, bold=True),
    txt("Final", W / 2, -21, 30, align="center"),
    txt("D", 0, -23, 26, font=SANS, weight="bold"),
    txt("pH", -56, 195, 30, align="center", baseline="middle", angle=270),
    *xlabel(),
    *legend((326, 7, 503, 71), 363, 394,
            [("Corrected", BLUE, "pt", 25), ("Final", CYAN, "pt", 55)]),
).properties(width=W, height=H)

chart = alt.concat(
    panel_a, panel_b, panel_c, panel_d, columns=2,
    spacing={"row": 73, "column": 101}, bounds="flush",
).configure_view(stroke="black", strokeWidth=1.5).properties(
    padding={"left": 11, "top": 8, "right": 0, "bottom": 0}, background="white")

chart.save("out.html", embed_options={"renderer": "svg", "actions": False})
